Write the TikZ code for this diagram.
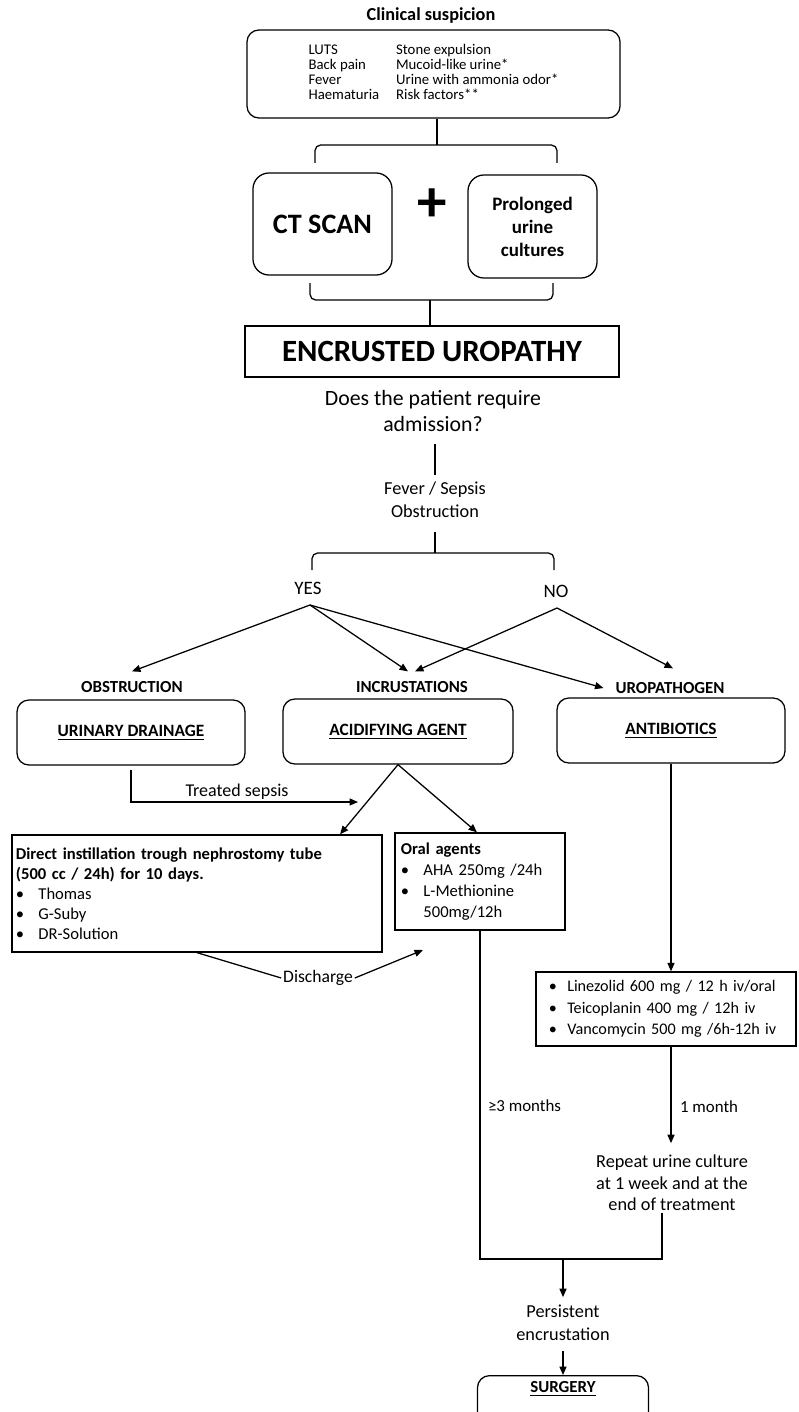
\documentclass[tikz,border=0pt]{standalone}
\usepackage{fontspec}
\setmainfont{Carlito}
\usetikzlibrary{arrows.meta,positioning,calc}

\newcommand{\bul}[1][16pt]{\makebox[#1][l]{\textbullet}}

\begin{document}
\begin{tikzpicture}[x=0.025cm,y=-0.025cm,line width=0.9pt,>={Triangle[length=6pt,width=5pt]}]

\useasboundingbox (0,0) rectangle (798,1412);

\tikzstyle{rbox} = [draw, rectangle, rounded corners=0.3cm, inner sep=0pt]
\tikzstyle{sbox} = [draw, rectangle, inner sep=0pt]
\tikzstyle{txt} = [inner sep=1pt, align=center]
\tikzstyle{lbl} = [inner sep=1pt, font=\bfseries\fontsize{12}{14}\selectfont]
\tikzstyle{under} = [rbox, minimum width=5.7cm, minimum height=1.625cm, font=\bfseries\fontsize{12.3}{14}\selectfont]

% clinical suspicion
\node (title) [lbl, font=\bfseries\fontsize{13}{15}\selectfont] at (431,16) {Clinical suspicion};
\node (sympt) [rbox, minimum width=9.325cm, minimum height=2.2cm, font=\fontsize{10.5}{10.5}\selectfont] at (433.5,74)
  {\begin{tabular}{@{}l@{\hspace{12pt}}l@{}}
   LUTS & Stone expulsion\\
   Back pain & Mucoid-like urine*\\
   Fever & Urine with ammonia odor*\\
   Haematuria & Risk factors**
   \end{tabular}};

\coordinate (b1) at (437,145);
\draw (sympt.south -| b1) -- (b1);
\draw[rounded corners=4pt] (315,163) -- (315,145) -- (557,145) -- (557,163);

% tests
\node (ct) [rbox, rounded corners=0.4cm, minimum width=3.475cm, minimum height=2.55cm, font=\bfseries\fontsize{20}{22}\selectfont] at (322.5,224) {CT SCAN};
\node (plus) [inner sep=0pt, font=\bfseries\fontsize{42}{42}\selectfont] at (432,205) {+};
\node (cult) [rbox, rounded corners=0.4cm, minimum width=3.225cm, minimum height=2.575cm, align=center, font=\bfseries\fontsize{13.5}{16.3}\selectfont] at (532.5,226.5) {Prolonged\\urine\\cultures};

\coordinate (b2) at (430,300);
\draw[rounded corners=4pt] (310,283) -- (310,300) -- (553,300) -- (553,283);
\node (enc) [sbox, minimum width=9.35cm, minimum height=1.275cm, font=\bfseries\fontsize{22}{24}\selectfont] at (432,351.5) {ENCRUSTED UROPATHY};
\draw (b2) -- (b2 |- enc.north);

% admission
\node (quest) [txt, font=\fontsize{15.5}{19}\selectfont] at (433,411) {Does the patient require\\admission?};
\node (fever) [txt, font=\fontsize{13}{16.3}\selectfont] at (435,500) {Fever / Sepsis\\Obstruction};
\draw[shorten <=0.25cm, shorten >=0.12cm] (quest.south -| fever.north) -- (fever.north);

\coordinate (b3) at (435,553);
\draw[shorten <=0.3cm] (fever.south) -- (b3);
\draw[rounded corners=4pt] (312,570) -- (312,553) -- (554,553) -- (554,570);

\node (yes) [txt, font=\fontsize{13.5}{15}\selectfont] at (308,588) {YES};
\node (no) [txt, font=\fontsize{13.5}{15}\selectfont] at (556,591) {NO};
\coordinate (yesfork) at (310,605);
\coordinate (nofork) at (557,608);

\node (obs) [lbl] at (132,687) {OBSTRUCTION};
\node (inc) [lbl] at (412,687) {INCRUSTATIONS};
\node (uro) [lbl] at (670,688) {UROPATHOGEN};

\draw[->] (yesfork) -- ([yshift=0.2cm]obs.north);
\draw[->] (yesfork) -- ([xshift=-0.1cm,yshift=0.2cm]inc.north);
\draw[->] (yesfork) -- ([xshift=-0.25cm]uro.west);
\draw[->] (nofork) -- ([xshift=0.075cm,yshift=0.2cm]inc.north);
\draw[->] (nofork) -- ([xshift=0.075cm,yshift=0.3cm]uro.north);

% treatments
\node (drain) [under] at (131,732.5) {\underline{URINARY DRAINAGE}};
\node (acid) [under, minimum width=5.75cm] at (398,731.5) {\underline{ACIDIFYING AGENT}};
\node (anti) [under] at (671,730.5) {\underline{ANTIBIOTICS}};

\coordinate (tsend) at (358,802);
\draw[->, shorten <=0.12cm] (drain.south) |- (tsend);
\node (tsep) [txt, font=\fontsize{12.8}{14}\selectfont] at (237,792) {Treated sepsis};

\node (direct) [sbox, minimum width=9.25cm, minimum height=2.925cm, text width=9.05cm, inner xsep=0.1cm, align=left, font=\fontsize{11.8}{14.2}\selectfont] at (197,893.5)
  {\textbf{Direct instillation trough nephrostomy tube}\\
   \textbf{(500 cc / 24h) for 10 days.}\\
   \bul Thomas\\
   \bul G-Suby\\
   \bul DR-Solution};
\node (oral) [sbox, minimum width=4.25cm, minimum height=2.425cm, text width=3.95cm, inner xsep=0.15cm, align=left, font=\fontsize{11.8}{14.9}\selectfont] at (480,881.5)
  {\textbf{Oral agents}\\
   \bul AHA 250mg /24h\\
   \bul L-Methionine\\
   \hspace*{16pt}500mg/12h};

\draw[->] (acid.south) -- ([xshift=3.575cm]direct.north);
\draw[->] (acid.south) -- ([xshift=-0.075cm]oral.north);

\node (disch) [txt, font=\fontsize{12.5}{14}\selectfont] at (318,978) {Discharge};
\coordinate (dtip) at (423,950);
\draw (direct.south) -- (disch.west);
\draw[->] (disch.east) -- (dtip);

\node (lin) [sbox, minimum width=6.5cm, minimum height=1.85cm, text width=5.85cm, inner xsep=0.325cm, align=left, font=\fontsize{11.5}{15.2}\selectfont] at (666,1009)
  {\bul[13pt]Linezolid 600 mg / 12 h iv/oral\\
   \bul[13pt]Teicoplanin 400 mg / 12h iv\\
   \bul[13pt]Vancomycin 500 mg /6h-12h iv};
\draw[->] (anti.south) -- (anti.south |- lin.north);

\node (rep) [txt, font=\fontsize{13}{15.2}\selectfont] at (672,1183) {Repeat urine culture\\at 1 week and at the\\end of treatment};
\draw[->, shorten >=0.25cm] (anti.south |- lin.south) -- (anti.south |- rep.north);
\node (m1) [txt, anchor=west, font=\fontsize{12}{14}\selectfont] at (678,1107) {1 month};
\node (m3) [txt, anchor=west, font=\fontsize{12}{14}\selectfont] at (486,1106) {≥3 months};

% outcome
\coordinate (join) at (563,1259);
\node (persist) [txt, font=\fontsize{13}{16.3}\selectfont] at (563,1323) {Persistent\\encrustation};
\draw (oral.south) |- (join);
\draw ([xshift=-0.25cm]rep.south) |- (join);
\draw[->, shorten >=0.15cm] (join) -- (persist.north);

\node (surg) [rbox, anchor=north, minimum width=4.275cm, inner ysep=0.15cm, align=center, font=\bfseries\fontsize{12}{14}\selectfont] at (563,1375) {\underline{SURGERY}\\[40pt]\mbox{}};
\draw[->, shorten <=0.2cm] (persist.south) -- (surg.north);

\end{tikzpicture}
\end{document}
